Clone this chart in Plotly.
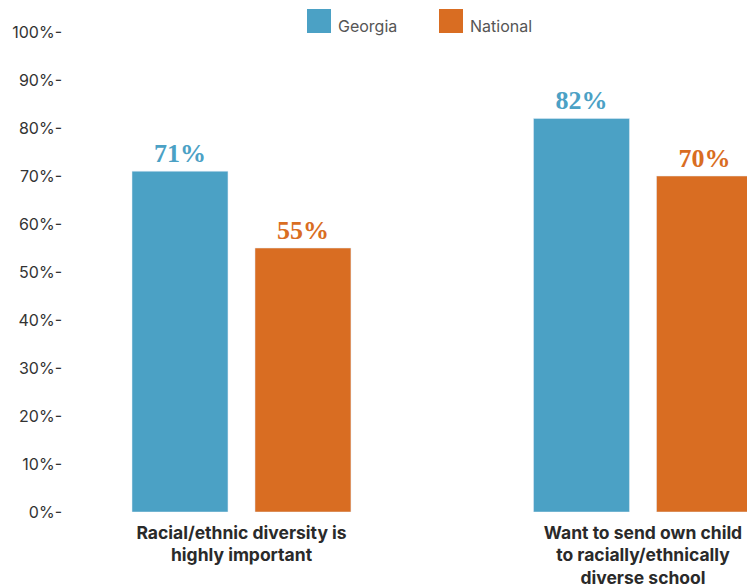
import plotly.graph_objects as go

# Survey results: share of respondents (%)
categories = ["Racial/ethnic diversity is<br>highly important",
              "Want to send own child<br>to racially/ethnically<br>diverse school"]
georgia = [71, 82]
national = [55, 70]
series_names = ["Georgia", "National"]
tick_values = [0, 10, 20, 30, 40, 50, 60, 70, 80, 90, 100]
tick_labels = [f"{v}%-" for v in tick_values]

BLUE = "#4BA1C5"
ORANGE = "#D96D22"

x_pos = list(range(len(categories)))
BAR_W = 0.239

fig = go.Figure()
for vals, color, offset in [(georgia, BLUE, -0.2727), (national, ORANGE, 0.0336)]:
    fig.add_trace(go.Bar(
        x=x_pos, y=vals, marker_color=color, width=BAR_W, offset=offset,
        text=[f"{v}%" for v in vals], textposition="outside",
        textfont=dict(family="Liberation Serif", size=26, color=color),
        texttemplate="<b>%{text}</b>", cliponaxis=False, showlegend=False,
    ))

# Legend: colour swatches with labels above the plot
PL, PW, PB, PH = 65, 682, 512, 480
def px_x(v):
    return (v - PL) / PW
def px_y(v):
    return (PB - v) / PH

for name, color, sx in zip(series_names, [BLUE, ORANGE], [307, 439]):
    fig.add_shape(type="rect", xref="paper", yref="paper",
                  x0=px_x(sx), x1=px_x(sx + 24), y0=px_y(33), y1=px_y(9),
                  fillcolor=color, line_width=0)
    fig.add_annotation(xref="paper", yref="paper", x=px_x(sx + 29), y=px_y(26),
                       xanchor="left", yanchor="middle", text=name, showarrow=False,
                       font=dict(family="Inter", size=16, color="#555555"))

fig.update_layout(
    width=747, height=588,
    margin=dict(l=65, r=0, t=32, b=76),
    paper_bgcolor="white", plot_bgcolor="white",
    barmode="overlay",
    font=dict(family="Inter", color="#333333"),
    showlegend=False,
)
fig.update_xaxes(
    range=[-0.4396, 1.259], tickvals=x_pos,
    ticktext=[f"<b>{c}</b>" for c in categories],
    tickfont=dict(size=17.5, color="#2a2a2a"),
    showgrid=False, zeroline=False, showline=False, ticks="",
    ticklabelstandoff=8,
)
fig.update_yaxes(
    range=[0, 100], tickvals=tick_values, ticktext=tick_labels,
    tickfont=dict(size=16, color="#333333"),
    showgrid=False, zeroline=False, showline=False, ticks="",
    ticklabelstandoff=2,
)

fig.write_html("out.html")
